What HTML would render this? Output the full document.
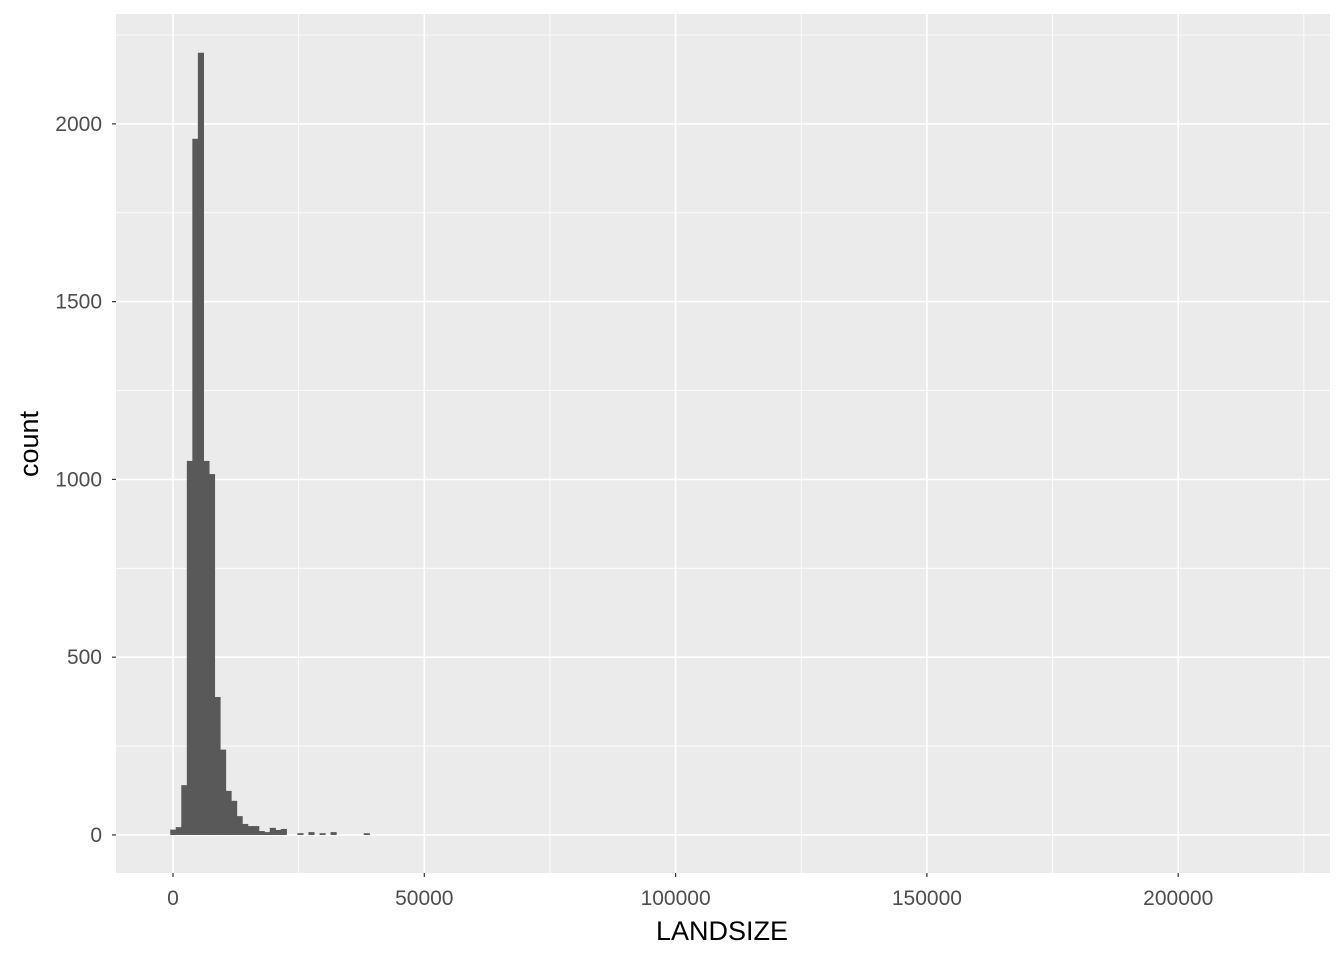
<!DOCTYPE html>
<html><head><meta charset="utf-8"><style>
body{margin:0;background:#fff;font-family:"Liberation Sans",Arial,sans-serif}
</style></head><body>
<svg id="chart" width="1344" height="960" xmlns="http://www.w3.org/2000/svg"></svg>
<script>
const binWidth = 1100;
const binCounts = [15,22,140,1052,1958,2200,1052,1015,388,240,124,96,53,31,25,25,11,8,20,14,17,0,0,5,0,8,0,5,0,8,0,0,0,0,0,5];
const xTicks = [0,50000,100000,150000,200000];
const yTicks = [0,500,1000,1500,2000];
const xMinor = [25000,75000,125000,175000,225000];
const yMinor = [250,750,1250,1750,2250];

const svg = document.getElementById('chart');
const NS = 'http://www.w3.org/2000/svg';
const P = {l:116, r:1330, t:14, b:873};
const xMin=-11340, xMax=230200, yMin=-107, yMax=2309;
const X = v => P.l + (v-xMin)/(xMax-xMin)*(P.r-P.l);
const Y = v => P.b - (v-yMin)/(yMax-yMin)*(P.b-P.t);
function mk(tag, attrs, parent){const e=document.createElementNS(NS,tag);for(const k in attrs)e.setAttribute(k,attrs[k]);(parent||svg).appendChild(e);return e;}

const bg = mk('rect',{x:P.l,y:P.t,width:P.r-P.l,height:P.b-P.t,fill:'#ebebeb'});


yMinor.forEach(v=>{const l=mk('line',{x1:P.l,x2:P.r,y1:Y(v),y2:Y(v),stroke:'#fff','stroke-width':0.8});

});
xMinor.forEach(v=>{const l=mk('line',{x1:X(v),x2:X(v),y1:P.t,y2:P.b,stroke:'#fff','stroke-width':0.8});

});
yTicks.forEach(v=>{const l=mk('line',{x1:P.l,x2:P.r,y1:Y(v),y2:Y(v),stroke:'#fff','stroke-width':1.6});


const t=mk('line',{x1:P.l-4,x2:P.l,y1:Y(v),y2:Y(v),stroke:'#333','stroke-width':1.2});


const tx=mk('text',{x:P.l-14,y:Y(v)+7,'text-anchor':'end','font-size':21,fill:'#4d4d4d'});tx.textContent=v;

});
xTicks.forEach(v=>{const l=mk('line',{x1:X(v),x2:X(v),y1:P.t,y2:P.b,stroke:'#fff','stroke-width':1.6});


const t=mk('line',{x1:X(v),x2:X(v),y1:P.b,y2:P.b+4,stroke:'#333','stroke-width':1.2});


const tx=mk('text',{x:X(v),y:P.b+32,'text-anchor':'middle','font-size':21,fill:'#4d4d4d'});tx.textContent=v;

});
binCounts.forEach((c,i)=>{if(c<=0)return;
const x0=X(i*binWidth-binWidth/2), x1=X(i*binWidth+binWidth/2);
const b=mk('rect',{x:x0,y:Y(c),width:x1-x0+0.6,height:Y(0)-Y(c),fill:'#595959'});

});
const xt=mk('text',{x:722,y:940,'text-anchor':'middle','font-size':27,fill:'#000'});xt.textContent='LANDSIZE';


const yt=mk('text',{x:38,y:444,'text-anchor':'middle','font-size':27,fill:'#000',transform:'rotate(-90 38 444)'});yt.textContent='count';


</script>
</body></html>
